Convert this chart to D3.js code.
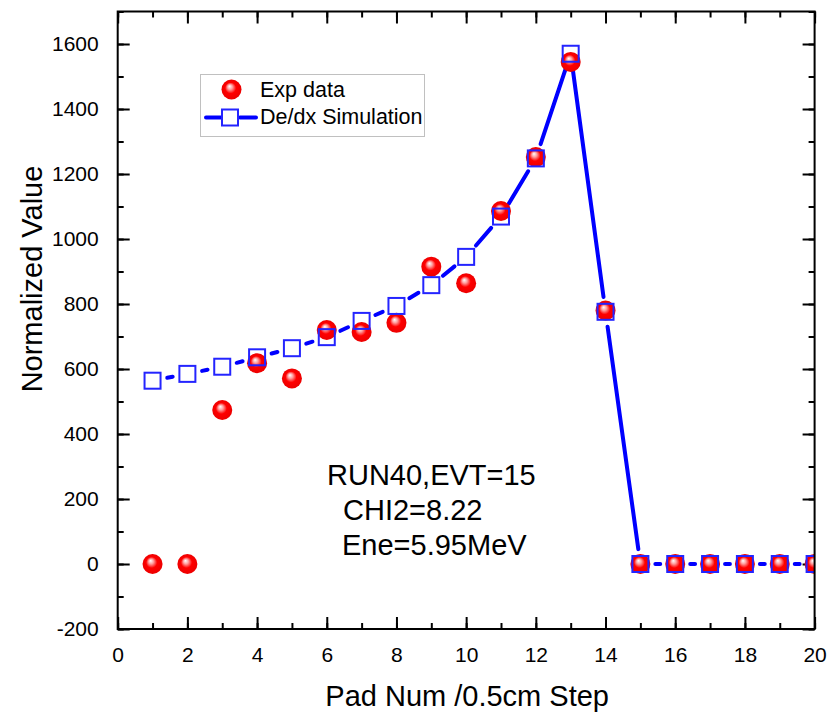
<!DOCTYPE html>
<html>
<head>
<meta charset="utf-8">
<script src="https://cdn.jsdelivr.net/npm/d3@7"></script>
<style>
  html, body { margin: 0; padding: 0; background: #fff; }
  svg { display: block; }
  text { font-family: "Liberation Sans", Arial, sans-serif; fill: #000; }
</style>
</head>
<body>
<svg id="chart" width="829" height="718"></svg>
<script>
// ---- data ----
const pads = [1,2,3,4,5,6,7,8,9,10,11,12,13,14,15,16,17,18,19,20];
const expData = [0,0,474,618,571,720,714,742,915,864,1086,1252,1545,780,0,0,0,0,0,0];
const simData = [564,585,607,636,664,698,748,794,858,945,1069,1248,1570,776,0,0,0,0,0,0];
const xTicks = [0,2,4,6,8,10,12,14,16,18,20];
const yTicks = [-200,0,200,400,600,800,1000,1200,1400,1600];
const xMinor = d3.range(0, 21, 1);
const yMinor = d3.range(-200, 1701, 100);
const legendLabels = ["Exp data", "De/dx Simulation"];
const notes = ["RUN40,EVT=15", "CHI2=8.22", "Ene=5.95MeV"];
const xTitle = "Pad Num /0.5cm Step";
const yTitle = "Normalized Value";

// ---- layout ----
const L = 117.7, R = 814.6, T = 11.5, B = 629;
const svg = d3.select("#chart");
const x = d3.scaleLinear().domain([0, 20]).range([L, R]);
const y = d3.scaleLinear().domain([-200, 1700]).range([B, T]);

const defs = svg.append("defs");
const grad = defs.append("radialGradient").attr("id", "ball")
  .attr("cx", "50%").attr("cy", "50%").attr("r", "50%")
  .attr("fx", "40%").attr("fy", "33%");
grad.append("stop").attr("offset", "0%").attr("stop-color", "#ffffff");
grad.append("stop").attr("offset", "25%").attr("stop-color", "#ffa0a0");
grad.append("stop").attr("offset", "55%").attr("stop-color", "#ff0000");
grad.append("stop").attr("offset", "100%").attr("stop-color", "#ec0000");
defs.append("clipPath").attr("id", "plotclip").append("rect")
  .attr("x", L).attr("y", T).attr("width", R - L).attr("height", B - T);

// ---- axes (inward ticks on all sides) ----
const plainFmt = d => String(d);
function styleAxis(g) {
  g.select(".domain").remove();
  g.selectAll(".tick line").attr("stroke", "#000").attr("stroke-width", 2);
  g.selectAll("text").style("font-family", "'Liberation Sans', Arial, sans-serif")
    .style("font-size", "21px").attr("fill", "#111");
}
svg.append("g").attr("transform", `translate(0,${B})`)
  .call(d3.axisBottom(x).tickValues(xMinor).tickSize(-6).tickFormat(""))
  .call(styleAxis);
svg.append("g").attr("transform", `translate(0,${B})`)
  .call(d3.axisBottom(x).tickValues(xTicks).tickSize(-12).tickPadding(18).tickFormat(plainFmt))
  .call(styleAxis);
svg.append("g").attr("transform", `translate(0,${T})`)
  .call(d3.axisTop(x).tickValues(xMinor).tickSize(-6).tickFormat(""))
  .call(styleAxis);
svg.append("g").attr("transform", `translate(0,${T})`)
  .call(d3.axisTop(x).tickValues(xTicks).tickSize(-12).tickFormat(""))
  .call(styleAxis);
svg.append("g").attr("transform", `translate(${L},0)`)
  .call(d3.axisLeft(y).tickValues(yMinor).tickSize(-6).tickFormat(""))
  .call(styleAxis);
svg.append("g").attr("transform", `translate(${L},0)`)
  .call(d3.axisLeft(y).tickValues(yTicks).tickSize(-12).tickPadding(19).tickFormat(plainFmt))
  .call(styleAxis);
svg.append("g").attr("transform", `translate(${R},0)`)
  .call(d3.axisRight(y).tickValues(yMinor).tickSize(-6).tickFormat(""))
  .call(styleAxis);
svg.append("g").attr("transform", `translate(${R},0)`)
  .call(d3.axisRight(y).tickValues(yTicks).tickSize(-12).tickFormat(""))
  .call(styleAxis);

// ---- plot content ----
const plot = svg.append("g").attr("clip-path", "url(#plotclip)");
const gap = 15;
const segs = [];
for (let i = 0; i < pads.length - 1; i++) {
  const x1 = x(pads[i]), y1 = y(simData[i]), x2 = x(pads[i + 1]), y2 = y(simData[i + 1]);
  const len = Math.hypot(x2 - x1, y2 - y1);
  if (len <= 2 * gap) continue;
  const ux = (x2 - x1) / len, uy = (y2 - y1) / len;
  segs.push([x1 + ux * gap, y1 + uy * gap, x2 - ux * gap, y2 - uy * gap]);
}
plot.append("g").selectAll("line").data(segs).join("line")
  .attr("x1", d => d[0]).attr("y1", d => d[1]).attr("x2", d => d[2]).attr("y2", d => d[3])
  .attr("stroke", "#0000ff").attr("stroke-width", 4).attr("stroke-linecap", "round");

const sq = 16;
plot.append("g").selectAll("circle").data(pads).join("circle")
  .attr("cx", (d) => x(d)).attr("cy", (d, i) => y(expData[i])).attr("r", 10)
  .attr("fill", "url(#ball)");
plot.append("g").selectAll("rect").data(pads).join("rect")
  .attr("x", d => x(d) - sq / 2).attr("y", (d, i) => y(simData[i]) - sq / 2)
  .attr("width", sq).attr("height", sq)
  .attr("fill", "none").attr("stroke", "#2424ff").attr("stroke-width", 2);

// ---- frame ----
svg.append("rect").attr("x", L).attr("y", T).attr("width", R - L).attr("height", B - T)
  .attr("fill", "none").attr("stroke", "#000").attr("stroke-width", 2);

// ---- titles ----
svg.append("text").attr("x", (L + R) / 2 + 1).attr("y", 706).attr("text-anchor", "middle")
  .style("font-size", "29px").attr("fill", "#111").text(xTitle);
svg.append("text").attr("transform", `translate(42,${279}) rotate(-90)`).attr("text-anchor", "middle")
  .style("font-size", "29px").attr("fill", "#111").text(yTitle);

// ---- annotation ----
const noteX = [327, 343, 342], noteY = [485, 520, 555];
svg.append("g").selectAll("text").data(notes).join("text")
  .attr("x", (d, i) => noteX[i]).attr("y", (d, i) => noteY[i])
  .style("font-size", "29px").attr("fill", "#111").text(d => d);

// ---- legend ----
const lg = svg.append("g");
lg.append("rect").attr("x", 200.5).attr("y", 74.5).attr("width", 224).attr("height", 62)
  .attr("fill", "#fff").attr("stroke", "#c0c0c0").attr("stroke-width", 1);
lg.append("circle").attr("cx", 231.5).attr("cy", 89.5).attr("r", 10).attr("fill", "url(#ball)");
lg.append("line").attr("x1", 206).attr("x2", 221).attr("y1", 117.5).attr("y2", 117.5)
  .attr("stroke", "#0000ff").attr("stroke-width", 4).attr("stroke-linecap", "round");
lg.append("line").attr("x1", 240).attr("x2", 256).attr("y1", 117.5).attr("y2", 117.5)
  .attr("stroke", "#0000ff").attr("stroke-width", 4).attr("stroke-linecap", "round");
lg.append("rect").attr("x", 222).attr("y", 109.5).attr("width", sq).attr("height", sq)
  .attr("fill", "#fff").attr("stroke", "#2424ff").attr("stroke-width", 2);
lg.selectAll("text.lab").data(legendLabels).join("text").attr("class", "lab")
  .attr("x", 260).attr("y", (d, i) => [97, 124][i])
  .style("font-size", "21.5px").attr("fill", "#111").text(d => d);
</script>
</body>
</html>
